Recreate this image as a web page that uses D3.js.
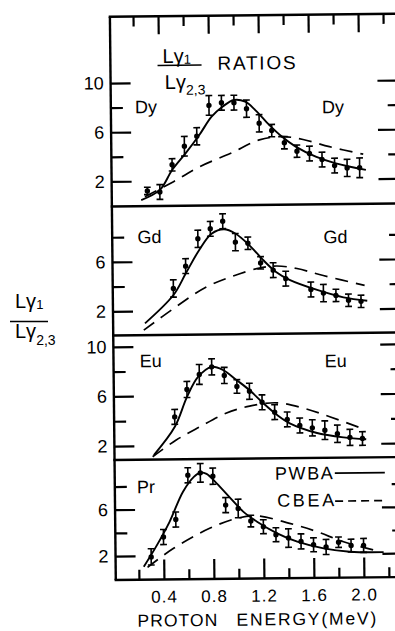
<!DOCTYPE html>
<html>
<head>
<meta charset="utf-8">
<script src="https://cdn.jsdelivr.net/npm/d3@7"></script>
<style>
  body { margin: 0; background: #fff; }
  svg { display: block; font-family: "Liberation Sans", Arial, sans-serif; }
</style>
</head>
<body>
<svg id="chart" width="395" height="631"></svg>
<script>
// L-gamma1 / L-gamma2,3 ratios vs proton energy (MeV)

// Dy
const dyE   = [0.3, 0.4, 0.5, 0.6, 0.7, 0.8, 0.9, 1.0, 1.1, 1.2, 1.3, 1.4, 1.5, 1.6, 1.7, 1.8, 1.9, 2.0];
const dyR   = [1.2, 1.1, 3.3, 4.8, 5.6, 8.1, 8.3, 8.3, 7.8, 6.6, 6.0, 5.0, 4.3, 4.1, 3.6, 3.1, 2.9, 2.9];
const dyErr = [0.3, 0.6, 0.5, 0.8, 0.7, 0.8, 0.6, 0.6, 0.7, 0.7, 0.5, 0.5, 0.5, 0.6, 0.6, 0.6, 0.7, 0.8];
const dyPWBA = [[0.25, 0.46], [0.4, 1.27], [0.5, 2.88], [0.61, 4.24], [0.72, 5.7], [0.82, 7.18], [0.91, 8.0],
  [1.0, 8.52], [1.09, 8.37], [1.17, 7.68], [1.28, 6.46], [1.38, 5.5], [1.49, 4.67], [1.65, 3.84], [1.81, 3.28], [2.05, 2.72]];
const dyCBEA = [[0.28, 0.73], [0.51, 1.93], [0.72, 3.12], [0.97, 4.19], [1.2, 5.25], [1.38, 5.5], [1.55, 5.25],
  [1.76, 4.64], [2.03, 4.0]];

// Gd
const gdE   = [0.5, 0.6, 0.7, 0.8, 0.9, 1.0, 1.1, 1.2, 1.3, 1.4, 1.6, 1.7, 1.8, 1.9, 2.0];
const gdR   = [3.8, 5.6, 7.8, 8.6, 9.2, 7.5, 7.4, 5.8, 5.2, 4.5, 3.6, 3.3, 3.1, 2.7, 2.6];
const gdErr = [0.7, 0.6, 0.7, 0.6, 0.6, 0.7, 0.5, 0.5, 0.6, 0.6, 0.6, 0.7, 0.5, 0.5, 0.5];
const gdPWBA = [[0.27, 1.0], [0.5, 3.27], [0.6, 5.0], [0.71, 6.9], [0.81, 8.2], [0.91, 8.55], [1.0, 8.2],
  [1.11, 7.25], [1.22, 6.03], [1.32, 5.07], [1.43, 4.4], [1.65, 3.56], [1.86, 2.94], [2.05, 2.64]];
const gdCBEA = [[0.26, 0.45], [0.52, 2.32], [0.76, 3.87], [0.98, 4.76], [1.19, 5.38], [1.33, 5.53], [1.49, 5.31],
  [1.7, 4.72], [2.03, 3.89]];

// Eu
const euE   = [0.5, 0.6, 0.7, 0.8, 0.9, 1.0, 1.1, 1.2, 1.3, 1.4, 1.5, 1.6, 1.7, 1.8, 1.9, 2.0];
const euR   = [4.3, 6.5, 7.7, 8.3, 7.6, 6.7, 6.3, 5.4, 4.6, 4.0, 3.5, 3.3, 3.1, 2.8, 2.5, 2.4];
const euErr = [0.6, 0.65, 0.8, 0.65, 0.65, 0.55, 0.65, 0.6, 0.6, 0.6, 0.6, 0.65, 0.75, 0.7, 0.65, 0.55];
const euPWBA = [[0.33, 1.24], [0.5, 3.5], [0.6, 5.9], [0.69, 7.5], [0.8, 8.3], [0.89, 8.04], [1.0, 7.2],
  [1.1, 6.4], [1.21, 5.32], [1.32, 4.36], [1.42, 3.68], [1.63, 2.9], [1.85, 2.5], [2.03, 2.33]];
const euCBEA = [[0.32, 1.1], [0.51, 2.43], [0.7, 3.48], [0.91, 4.55], [1.1, 5.11], [1.32, 5.35], [1.53, 4.9],
  [1.74, 4.18], [2.0, 3.2]];

// Pr
const prE   = [0.3, 0.4, 0.5, 0.6, 0.7, 0.8, 0.9, 1.0, 1.1, 1.2, 1.3, 1.4, 1.5, 1.6, 1.7, 1.8, 1.9, 2.0];
const prR   = [1.9, 3.6, 5.1, 8.9, 9.1, 8.8, 6.3, 6.0, 4.9, 4.4, 3.7, 3.4, 3.1, 2.8, 2.6, 3.0, 2.7, 2.7];
const prErr = [0.7, 0.65, 0.65, 0.65, 0.8, 0.7, 0.65, 0.8, 0.5, 0.6, 0.6, 0.8, 0.65, 0.6, 0.65, 0.45, 0.55, 0.6];
const prPWBA = [[0.24, 1.06], [0.34, 2.78], [0.45, 4.91], [0.56, 7.49], [0.65, 8.78], [0.7, 9.12], [0.75, 9.0],
  [0.83, 8.18], [0.94, 6.88], [1.04, 5.72], [1.15, 4.84], [1.31, 3.82], [1.47, 3.08], [1.68, 2.48], [1.89, 2.17], [2.16, 2.1]];
const prCBEA = [[0.27, 1.0], [0.48, 2.62], [0.77, 4.31], [0.99, 5.15], [1.15, 5.34], [1.41, 4.67], [1.63, 3.92],
  [1.84, 3.03], [2.13, 2.15]];

// ticks
const xMajor = [0.4, 0.8, 1.2, 1.6, 2.0];
const xMinor = [0.2, 0.6, 1.0, 1.4, 1.8, 2.2];
const yMajor = [2, 6, 10];
const yMinor = [4, 8];

// layout
const panels = [
  { name: "Dy", top: 15.3, bottom: 205, zero: 204.6, unit: 12.3, maxTick: 10, E: dyE, R: dyR, err: dyErr, pwba: dyPWBA, cbea: dyCBEA, lab: [137, 112], labR: [324, 114] },
  { name: "Gd", top: 205, bottom: 334, zero: 334.6, unit: 12.35, maxTick: 8, E: gdE, R: gdR, err: gdErr, pwba: gdPWBA, cbea: gdCBEA, lab: [138, 242], labR: [324, 244] },
  { name: "Eu", top: 334, bottom: 458.6, zero: 469.4, unit: 12.4, maxTick: 10, E: euE, R: euR, err: euErr, pwba: euPWBA, cbea: euCBEA, lab: [139, 366], labR: [324, 368] },
  { name: "Pr", top: 458.6, bottom: 578.6, zero: 577.9, unit: 11.6, maxTick: 8, E: prE, R: prR, err: prErr, pwba: prPWBA, cbea: prCBEA, lab: [135, 492], labR: null }
];

const svg = d3.select("#chart");
// the printed figure is very slightly tilted
const root = svg.append("g").attr("transform", "rotate(-0.6 250 300)");

const x = d3.scaleLinear().domain([0, 2]).range([111, 361]);
const X0 = x(0.015), X1 = x(2.31);
const TOP = panels[0].top, BOTTOM = panels[3].bottom;

function styleAxis(g, size) {
  g.select(".domain").remove();
  g.selectAll(".tick line").attr("stroke", "#000").attr("stroke-width", 2.2);
  g.selectAll(".tick text").attr("fill", "#000").attr("font-size", size || 18);
}

// frame + panel separators
const frame = root.append("g").attr("stroke", "#000").attr("stroke-width", 2.4);
frame.append("line").attr("x1", X0).attr("x2", X0).attr("y1", TOP).attr("y2", BOTTOM);
frame.append("line").attr("x1", X1).attr("x2", X1).attr("y1", TOP).attr("y2", BOTTOM);
[TOP, ...panels.map(p => p.bottom)].forEach(yy => {
  frame.append("line").attr("x1", X0 - 1.2).attr("x2", X1).attr("y1", yy).attr("y2", yy);
});

// x axes (ticks point inward)
root.append("g").attr("transform", `translate(0,${BOTTOM})`)
  .call(d3.axisBottom(x).tickValues(xMajor).tickSize(-20).tickPadding(11).tickFormat(d3.format(".1f")))
  .call(g => styleAxis(g, 17))
  .call(g => g.selectAll(".tick text").attr("letter-spacing", 1));
root.append("g").attr("transform", `translate(0,${BOTTOM})`)
  .call(d3.axisBottom(x).tickValues(xMinor).tickSize(-10).tickFormat(""))
  .call(g => styleAxis(g));
root.append("g").attr("transform", `translate(0,${TOP})`)
  .call(d3.axisTop(x).tickValues(xMajor).tickSize(-18).tickFormat(""))
  .call(g => styleAxis(g));
root.append("g").attr("transform", `translate(0,${TOP})`)
  .call(d3.axisTop(x).tickValues(xMinor).tickSize(-10).tickFormat(""))
  .call(g => styleAxis(g));

root.append("text").attr("x", 134).attr("y", 625.5).attr("font-size", 17.5)
  .attr("textLength", 80).attr("lengthAdjust", "spacing").text("PROTON");
root.append("text").attr("x", 233).attr("y", 625.5).attr("font-size", 17.5)
  .attr("textLength", 140).attr("lengthAdjust", "spacing").text("ENERGY(MeV)");

panels.forEach(p => {
  const y = d3.scaleLinear().domain([0, 10]).range([p.zero, p.zero - 10 * p.unit]);
  const g = root.append("g");
  const maj = yMajor.filter(t => t <= p.maxTick);
  const min = yMinor.filter(t => t <= p.maxTick);

  g.append("g").attr("transform", `translate(${X0},0)`)
    .call(d3.axisLeft(y).tickValues(maj).tickSize(-20).tickPadding(7).tickFormat(d3.format("d")))
    .call(a => styleAxis(a, 18));
  g.append("g").attr("transform", `translate(${X0},0)`)
    .call(d3.axisLeft(y).tickValues(min).tickSize(-12).tickFormat(""))
    .call(a => styleAxis(a));
  g.append("g").attr("transform", `translate(${X1},0)`)
    .call(d3.axisRight(y).tickValues(maj).tickSize(-20).tickFormat(""))
    .call(a => styleAxis(a));
  g.append("g").attr("transform", `translate(${X1},0)`)
    .call(d3.axisRight(y).tickValues(min).tickSize(-10).tickFormat(""))
    .call(a => styleAxis(a));

  const line = d3.line().x(d => x(d[0])).y(d => y(d[1])).curve(d3.curveCatmullRom.alpha(0.5));
  g.append("path").datum(p.cbea).attr("d", line)
    .attr("fill", "none").attr("stroke", "#000").attr("stroke-width", 1.7).attr("stroke-dasharray", "13,8");
  g.append("path").datum(p.pwba).attr("d", line)
    .attr("fill", "none").attr("stroke", "#000").attr("stroke-width", 1.9);

  const pts = p.E.map((e, i) => ({ e: e, r: p.R[i], s: p.err[i] }));
  const pt = g.selectAll(".pt").data(pts).join("g").attr("class", "pt")
    .attr("stroke", "#000").attr("stroke-width", 1.6);
  pt.append("line").attr("x1", d => x(d.e)).attr("x2", d => x(d.e))
    .attr("y1", d => y(d.r - d.s)).attr("y2", d => y(d.r + d.s));
  pt.append("line").attr("x1", d => x(d.e) - 3.4).attr("x2", d => x(d.e) + 3.4)
    .attr("y1", d => y(d.r - d.s)).attr("y2", d => y(d.r - d.s));
  pt.append("line").attr("x1", d => x(d.e) - 3.4).attr("x2", d => x(d.e) + 3.4)
    .attr("y1", d => y(d.r + d.s)).attr("y2", d => y(d.r + d.s));
  pt.append("circle").attr("cx", d => x(d.e)).attr("cy", d => y(d.r)).attr("r", 2.7)
    .attr("fill", "#000").attr("stroke", "none");

  g.append("text").attr("x", p.lab[0]).attr("y", p.lab[1]).attr("font-size", 18).text(p.name);
  if (p.labR) g.append("text").attr("x", p.labR[0]).attr("y", p.labR[1]).attr("font-size", 18).text(p.name);
});

// title inside the top panel
const num = root.append("text").attr("x", 165).attr("y", 62).attr("font-size", 20);
num.append("tspan").text("L\u03b3");
num.append("tspan").attr("font-size", 13).attr("dy", 1).text("1");
root.append("line").attr("x1", 160).attr("x2", 204).attr("y1", 64.5).attr("y2", 64.5)
  .attr("stroke", "#000").attr("stroke-width", 1.6);
const den = root.append("text").attr("x", 167).attr("y", 88).attr("font-size", 20);
den.append("tspan").text("L\u03b3");
den.append("tspan").attr("font-size", 14).attr("dy", 6).text("2,3");
root.append("text").attr("x", 220).attr("y", 69.5).attr("font-size", 19)
  .attr("textLength", 78).attr("lengthAdjust", "spacing").text("RATIOS");

// legend
root.append("text").attr("x", 273).attr("y", 480).attr("font-size", 18)
  .attr("textLength", 58).attr("lengthAdjust", "spacing").text("PWBA");
root.append("line").attr("x1", 333).attr("x2", 383).attr("y1", 474).attr("y2", 474)
  .attr("stroke", "#000").attr("stroke-width", 1.9);
root.append("text").attr("x", 275).attr("y", 507).attr("font-size", 18)
  .attr("textLength", 57).attr("lengthAdjust", "spacing").text("CBEA");
root.append("line").attr("x1", 333).attr("x2", 383).attr("y1", 502).attr("y2", 502)
  .attr("stroke", "#000").attr("stroke-width", 1.7).attr("stroke-dasharray", "8,5");

// y axis label (fraction)
const yn = svg.append("text").attr("x", 15).attr("y", 308).attr("font-size", 20);
yn.append("tspan").text("L\u03b3");
yn.append("tspan").attr("font-size", 13).attr("dy", 1).text("1");
svg.append("line").attr("x1", 10).attr("x2", 48).attr("y1", 321.5).attr("y2", 321.5)
  .attr("stroke", "#000").attr("stroke-width", 1.6);
const yd = svg.append("text").attr("x", 15).attr("y", 338).attr("font-size", 20);
yd.append("tspan").text("L\u03b3");
yd.append("tspan").attr("font-size", 14).attr("dy", 7).text("2,3");
</script>
</body>
</html>
